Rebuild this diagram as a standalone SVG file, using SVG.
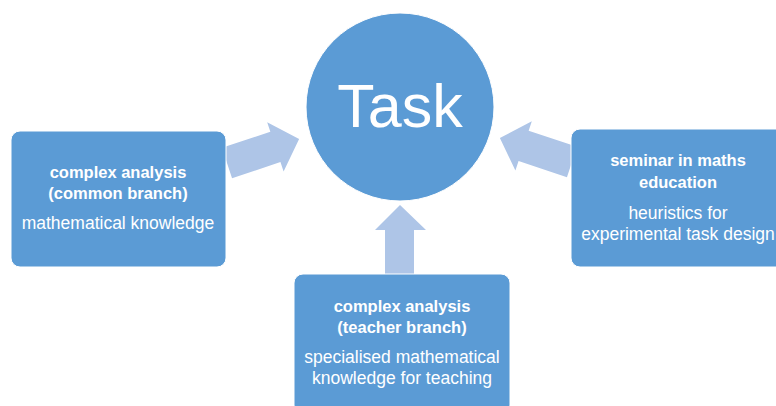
<svg xmlns="http://www.w3.org/2000/svg" width="776" height="406" viewBox="0 0 776 406">
<style>
.box{fill:#5b9bd5;stroke:#ffffff;stroke-width:1}
.arr{fill:#aec5e7}
.t{font-family:"Liberation Sans",Arial,sans-serif;fill:#ffffff;text-anchor:middle}
.b{font-weight:bold;font-size:16.5px}
.r{font-size:17.5px}
</style>
<rect width="776" height="406" fill="#ffffff"/>
<g id="connectors">
<path class="arr" transform="translate(227,163) rotate(-18.4)" d="M0,-16 H51 V-26 L76,0 L51,26 V16 H0 Z"/>
<path class="arr" transform="translate(572,162) scale(-1,1) rotate(-18.4)" d="M0,-16 H51 V-26 L76,0 L51,26 V16 H0 Z"/>
<path class="arr" d="M385,275 V230 H375 L400,205 L426,230 H414 V275 Z"/>
</g>
<g id="task">
<circle cx="400" cy="107" r="94" fill="#5b9bd5" stroke="#ffffff" stroke-width="1"/>
<text class="t" x="400" y="127" font-size="61">Task</text>
</g>
<g id="common-branch">
<rect class="box" x="11" y="131" width="215" height="136" rx="9"/>
<text class="t b" x="118" y="178">complex analysis</text>
<text class="t b" x="118" y="199">(common branch)</text>
<text class="t r" x="118" y="229">mathematical knowledge</text>
</g>
<g id="seminar">
<rect class="box" x="571" y="129" width="215" height="138" rx="9"/>
<text class="t b" x="678" y="166">seminar in maths</text>
<text class="t b" x="678" y="188">education</text>
<text class="t r" x="678" y="219">heuristics for</text>
<text class="t r" x="678" y="240">experimental task design</text>
</g>
<g id="teacher-branch">
<rect class="box" x="294" y="274" width="216" height="140" rx="9"/>
<text class="t b" x="402" y="312">complex analysis</text>
<text class="t b" x="402" y="333">(teacher branch)</text>
<text class="t r" x="402" y="363">specialised mathematical</text>
<text class="t r" x="402" y="384">knowledge for teaching</text>
</g>
</svg>
